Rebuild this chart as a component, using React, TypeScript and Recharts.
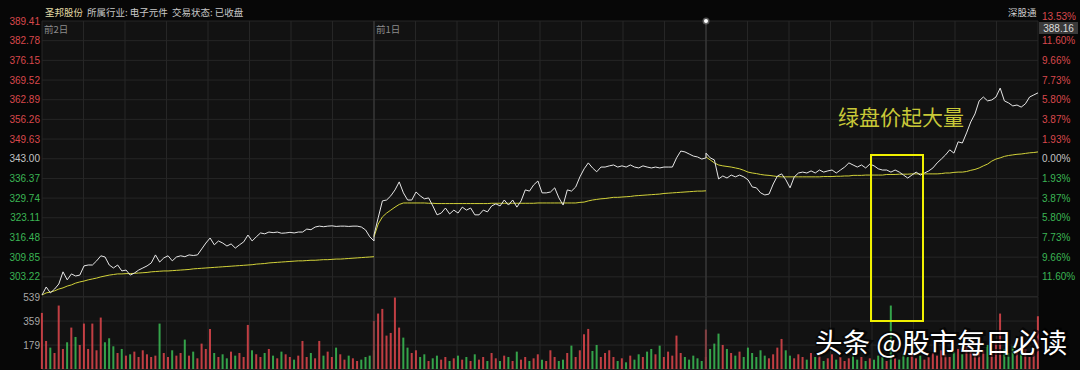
import { LineChart, Line, BarChart, Bar, Cell, XAxis, YAxis, CartesianGrid, ReferenceLine } from 'recharts';

const stockName = '圣邦股份';
const industry = '所属行业: 电子元件';
const status = '交易状态: 已收盘';
const dayLabels = ['前2日', '前1日'];
const prevClose = 343.0;
const lastQuote = '388.16';
const priceTicks = [389.41, 382.78, 376.15, 369.52, 362.89, 356.26, 349.63, 343.0, 336.37, 329.74, 323.11, 316.48, 309.85, 303.22];
const volumeTicks = [539, 359, 179];

// 3-minute samples, 80 per day
const day1Price = [
  297.1, 299.8, 297.8, 299.1, 300.8, 304.9, 302.2, 304.2, 303.5, 303.8,
  306.9, 307.2, 307.2, 308.6, 310.3, 309.9, 307.2, 306.2, 307.2, 305.2,
  305.5, 303.8, 304.5, 305.5, 306.2, 306.9, 307.9, 310.6, 308.2, 309.6,
  310.3, 308.6, 309.9, 310.3, 310.0, 310.6, 310.4, 310.6, 312.6, 314.6,
  316.3, 314.0, 315.3, 314.6, 313.6, 314.3, 312.9, 314.0, 315.0, 317.3,
  315.3, 316.7, 318.0, 317.7, 318.3, 318.1, 318.3, 317.9, 318.0, 318.2,
  318.0, 318.3, 318.3, 319.3, 319.1, 320.0, 320.3, 320.1, 320.3, 320.4,
  320.2, 320.3, 320.3, 320.2, 320.3, 320.3, 320.0, 319.0, 316.7, 315.3,
];
const day1Avg = [
  297.1, 297.8, 298.1, 298.5, 299.1, 299.5, 300.1, 300.5, 301.1, 301.5,
  301.8, 302.2, 302.5, 302.8, 303.2, 303.5, 303.8, 304.0, 304.2, 304.2,
  304.3, 304.3, 304.4, 304.5, 304.6, 304.7, 304.9, 305.0, 305.1, 305.2,
  305.2, 305.3, 305.4, 305.5, 305.6, 305.7, 305.9, 306.0, 306.1, 306.2,
  306.3, 306.4, 306.5, 306.6, 306.7, 306.8, 306.9, 307.0, 307.1, 307.2,
  307.3, 307.5, 307.6, 307.7, 307.9, 308.0, 308.1, 308.2, 308.3, 308.4,
  308.5, 308.6, 308.6, 308.7, 308.8, 308.8, 308.9, 309.0, 309.0, 309.1,
  309.2, 309.2, 309.3, 309.4, 309.5, 309.6, 309.7, 309.8, 309.9, 310.0,
];
const day1Volume = [
  420, 210, 160, 120, 475, 150, 200, 310, 240, 180,
  340, 150, 340, 140, 385, 200, 230, 170, 120, 150,
  100, 110, 130, 90, 140, 110, 90, 100, 340, 120,
  90, 140, 100, 120, 220, 100, 130, 80, 190, 150,
  300, 120, 90, 110, 80, 130, 100, 120, 90, 330,
  140, 110, 90, 120, 150, 100, 80, 130, 110, 90,
  70, 100, 210, 90, 120, 80, 210, 100, 130, 90,
  160, 110, 70, 100, 80, 60, 70, 90, 100, 140,
];

const day2Price = [
  317.3, 323.1, 328.8, 329.1, 330.5, 332.5, 335.2, 331.5, 329.1, 329.1,
  331.8, 330.5, 329.5, 329.8, 327.1, 324.1, 324.7, 326.4, 324.4, 325.7,
  324.7, 326.7, 325.7, 326.4, 324.1, 324.1, 325.7, 325.1, 327.1, 327.8,
  327.1, 329.1, 327.4, 329.1, 326.7, 328.8, 332.5, 332.1, 334.2, 335.5,
  331.5, 331.5, 331.8, 333.2, 329.8, 327.4, 332.5, 332.1, 333.5, 336.9,
  339.6, 341.6, 339.9, 338.6, 340.2, 340.2, 340.6, 340.9, 340.2, 340.6,
  340.2, 340.9, 340.2, 339.9, 340.6, 340.2, 339.9, 340.2, 339.9, 340.2,
  340.2, 340.2, 343.3, 345.6, 345.3, 344.6, 343.9, 343.6, 342.9, 343.3,
];
const day2Avg = [
  316.7, 321.0, 323.4, 324.7, 325.7, 326.7, 327.6, 328.1, 328.1, 328.1,
  328.1, 328.1, 328.1, 328.0, 328.0, 327.9, 327.9, 327.9, 327.9, 327.9,
  327.9, 327.9, 327.9, 327.9, 327.9, 327.9, 327.9, 327.9, 328.0, 328.0,
  328.0, 328.0, 328.0, 328.0, 328.0, 328.0, 328.0, 328.0, 328.0, 328.1,
  328.1, 328.1, 328.1, 328.1, 328.1, 328.1, 328.1, 328.1, 328.1, 328.3,
  328.4, 328.8, 329.1, 329.3, 329.5, 329.6, 329.8, 330.0, 330.0, 330.1,
  330.2, 330.3, 330.5, 330.6, 330.7, 330.8, 330.9, 331.0, 331.1, 331.3,
  331.4, 331.5, 331.6, 331.7, 331.8, 331.9, 332.0, 332.1, 332.1, 332.2,
];
const day2Volume = [
  360, 415, 450, 250, 270, 535, 310, 235, 160, 120,
  140, 90, 110, 60, 80, 100, 70, 90, 60, 80,
  100, 70, 90, 60, 110, 70, 90, 60, 120, 80,
  60, 100, 90, 60, 130, 70, 90, 60, 80, 110,
  70, 60, 140, 90, 60, 70, 120, 175, 90, 140,
  260, 300, 135, 180, 90, 120, 140, 90, 60, 80,
  50, 100, 70, 110, 90, 130, 150, 110, 175, 90,
  130, 100, 250, 120, 90, 70, 100, 80, 60, 90,
];

const day3Price = [
  344.9, 343.3, 342.6, 336.2, 337.2, 336.5, 337.5, 336.9, 337.5, 336.9,
  335.9, 333.5, 333.2, 331.5, 330.8, 331.1, 334.5, 337.2, 337.9, 335.9,
  333.2, 336.9, 338.2, 338.5, 338.2, 338.9, 338.2, 339.2, 338.5, 338.9,
  339.2, 338.2, 339.2, 340.2, 341.6, 340.9, 340.2, 340.9, 339.9, 341.2,
  340.6, 339.6, 339.2, 339.2, 338.5, 339.2, 338.5, 337.5, 336.5, 337.5,
  338.5, 337.5, 338.2, 338.9, 339.9, 341.6, 342.9, 344.3, 346.0, 344.9,
  348.7, 348.3, 351.7, 355.4, 358.1, 362.5, 363.8, 362.5, 362.8, 363.8,
  366.8, 362.5, 361.8, 360.8, 361.1, 360.4, 361.5, 363.8, 364.5, 365.2,
];
const day3Avg = [
  343.6, 342.6, 341.6, 340.9, 340.6, 340.4, 340.2, 339.9, 339.6, 339.1,
  338.5, 338.2, 338.0, 337.7, 337.5, 337.4, 337.2, 337.0, 336.9, 336.9,
  336.9, 336.9, 336.9, 336.9, 336.9, 336.9, 336.9, 336.9, 337.0, 337.0,
  337.0, 337.1, 337.1, 337.2, 337.2, 337.4, 337.4, 337.4, 337.5, 337.5,
  337.5, 337.5, 337.5, 337.7, 337.7, 337.7, 337.8, 337.8, 337.8, 337.9,
  337.9, 337.9, 337.9, 337.9, 337.9, 337.9, 338.0, 338.2, 338.2, 338.4,
  338.5, 338.5, 338.7, 339.1, 339.4, 339.9, 340.6, 341.2, 342.2, 342.9,
  343.3, 343.8, 344.1, 344.3, 344.5, 344.6, 344.8, 345.0, 345.1, 345.3,
];
const day3Volume = [
  295, 150, 190, 265, 180, 150, 120, 100, 130, 90,
  160, 120, 90, 140, 100, 80, 110, 160, 225, 140,
  100, 80, 110, 90, 70, 120, 90, 100, 60, 80,
  110, 70, 90, 60, 80, 100, 70, 90, 60, 80,
  70, 100, 90, 60, 475, 80, 70, 110, 90, 120,
  80, 100, 70, 90, 120, 100, 140, 110, 90, 130,
  150, 110, 170, 130, 120, 160, 140, 180, 130, 200,
  415, 150, 120, 170, 130, 110, 150, 90, 120, 395,
];

const days = [
  { price: day1Price, avg: day1Avg, volume: day1Volume },
  { price: day2Price, avg: day2Avg, volume: day2Volume },
  { price: day3Price, avg: day3Avg, volume: day3Volume },
];

const MIN_PER_DAY = 240;
const rows: any[] = [];
days.forEach((d, di) => {
  d.price.forEach((p, j) => {
    const row: any = {
      t: di * MIN_PER_DAY + (j * MIN_PER_DAY) / (d.price.length - 1),
      price: p,
      volume: d.volume[j],
    };
    row['avg' + (di + 1)] = d.avg[j];
    const prev = rows.length ? rows[rows.length - 1].price : p;
    row.up = p >= prev;
    rows.push(row);
  });
});

const RED = '#e0474c';
const GREEN = '#3bbd55';
const FONT = '"Liberation Sans", Arial, sans-serif';
const CJK = '"Noto Sans CJK SC", sans-serif';
const xTicks = Array.from({ length: 25 }, (_, k) => k * 30);

const gridX = ({ offset }: any) => xTicks.map((_, k) => offset.left + (offset.width * k) / 24);

function PriceTick({ x, y, payload }: any) {
  const v = payload.value;
  const fill = v > prevClose ? '#d9484c' : v < prevClose ? '#3bb554' : '#c4c4c4';
  return (
    <text x={x} y={y} dy={3.5} textAnchor="end" fill={fill} fontSize={10} fontFamily={FONT}>
      {v.toFixed(2)}
    </text>
  );
}

function PctTick({ x, y, payload, index }: any) {
  const v = payload.value;
  const fill = v > prevClose ? '#d9484c' : v < prevClose ? '#3bb554' : '#c4c4c4';
  const pct = Math.abs((v / prevClose - 1) * 100).toFixed(2);
  // the top label sits just above the quote box, as in the terminal
  return (
    <text x={x} y={y} dy={index === 0 ? -1.5 : 3.5} textAnchor="start" fill={fill} fontSize={10} fontFamily={FONT}>
      {pct}%
    </text>
  );
}

function VolTick({ x, y, payload }: any) {
  return (
    <text x={x} y={y} dy={3.5} textAnchor="end" fill="#a8a8a8" fontSize={10} fontFamily={FONT}>
      {payload.value}
    </text>
  );
}

export default function App() {
  return (
    <div style={{ position: 'absolute', left: 0, top: 0, width: 1080, height: 370, background: '#070707', overflow: 'hidden' }}>
      <div style={{ position: 'absolute', left: 42, top: 21, width: 996, height: 349, background: '#121212' }} />

      <div style={{ position: 'absolute', left: 0, top: 0 }}>
        <LineChart width={1080} height={297} data={rows} margin={{ top: 21, right: 0, bottom: 0.5, left: 0 }}>
          <CartesianGrid stroke="#262626" verticalCoordinatesGenerator={gridX} />
          <XAxis dataKey="t" type="number" domain={[0, 720]} ticks={xTicks} hide />
          <YAxis
            type="number"
            domain={[296.59, 389.41]}
            ticks={priceTicks}
            interval={0}
            width={42}
            tickSize={0}
            tickMargin={2}
            tickLine={false}
            axisLine={false}
            tick={<PriceTick />}
            allowDataOverflow
          />
          <YAxis
            yAxisId="pct"
            orientation="right"
            type="number"
            domain={[296.59, 389.41]}
            ticks={priceTicks}
            interval={0}
            width={42}
            tickSize={0}
            tickMargin={4}
            tickLine={false}
            axisLine={false}
            tick={<PctTick />}
            allowDataOverflow
          />
          <ReferenceLine x={240} stroke="#404040" />
          <ReferenceLine x={480} stroke="#404040" />
          <Line dataKey="avg1" stroke="#d2d23a" strokeWidth={1} dot={false} isAnimationActive={false} />
          <Line dataKey="avg2" stroke="#d2d23a" strokeWidth={1} dot={false} isAnimationActive={false} />
          <Line dataKey="avg3" stroke="#d2d23a" strokeWidth={1} dot={false} isAnimationActive={false} />
          <Line dataKey="price" stroke="#e6e6e6" strokeWidth={1} dot={false} isAnimationActive={false} />
        </LineChart>
      </div>

      <div style={{ position: 'absolute', left: 0, top: 285 }}>
        <BarChart width={1080} height={85} data={rows} margin={{ top: 12, right: 42, bottom: 1, left: 0 }}>
          <CartesianGrid stroke="#262626" verticalCoordinatesGenerator={gridX} />
          <XAxis dataKey="t" type="number" domain={[0, 720]} ticks={xTicks} hide />
          <YAxis
            type="number"
            domain={[0, 539]}
            ticks={volumeTicks}
            interval={0}
            width={42}
            tickSize={0}
            tickMargin={2}
            tickLine={false}
            axisLine={false}
            tick={<VolTick />}
          />
          <ReferenceLine x={240} stroke="#404040" />
          <ReferenceLine x={480} stroke="#404040" />
          <Bar dataKey="volume" barSize={2} isAnimationActive={false}>
            {rows.map((r, i) => (
              <Cell key={i} fill={r.up ? RED : GREEN} fillOpacity={0.85} />
            ))}
          </Bar>
        </BarChart>
      </div>

      <svg width={1080} height={370} style={{ position: 'absolute', left: 0, top: 0, pointerEvents: 'none' }}>
        <text x={45} y={16} fill="#e4dca8" fontSize={9.5} fontFamily={CJK}>{stockName}</text>
        <text x={87} y={16} fill="#c8c8c8" fontSize={9.5} fontFamily={CJK}>{industry}</text>
        <text x={172} y={16} fill="#c8c8c8" fontSize={9.5} fontFamily={CJK}>{status}</text>
        <text x={1008} y={16} fill="#cfcfcf" fontSize={9.5} fontFamily={CJK}>深股通</text>
        <text x={44} y={33} fill="#8c8c8c" fontSize={9.5} fontFamily={CJK}>{dayLabels[0]}</text>
        <text x={376} y={33} fill="#8c8c8c" fontSize={9.5} fontFamily={CJK}>{dayLabels[1]}</text>
        <circle cx={706} cy={21} r={3.5} fill="#ffffff" opacity={0.3} />
        <circle cx={706} cy={21} r={2} fill="#ffffff" />
        <rect x={1039} y={22} width={39} height={12} fill="#3a3a3a" />
        <text x={1058.5} y={31.5} textAnchor="middle" fill="#dcdcdc" fontSize={10} fontFamily={FONT}>{lastQuote}</text>
        <rect x={871} y={155} width={52} height={166} fill="none" stroke="#f0f000" strokeWidth={2} />
        <text x={838} y={125} fill="#c8c838" fontSize={21} fontFamily={CJK}>绿盘价起大量</text>
        <text x={816} y={353} fill="#000" opacity={0.6} fontSize={27.5} fontFamily={CJK} stroke="#000" strokeWidth={4}>头条 @股市每日必读</text>
        <text x={815} y={353} fill="#ffffff" fontSize={27.5} fontFamily={CJK}>头条 @股市每日必读</text>
      </svg>
    </div>
  );
}
